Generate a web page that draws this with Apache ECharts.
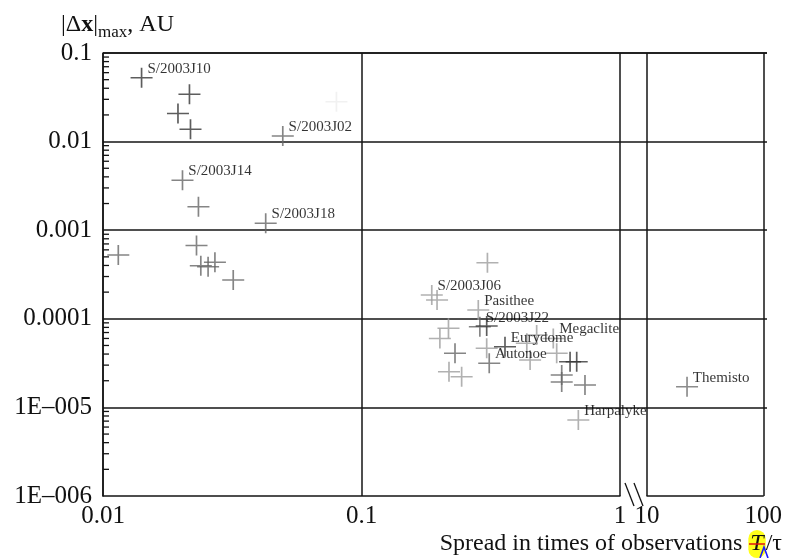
<!DOCTYPE html>
<html>
<head>
<meta charset="utf-8">
<script src="https://cdn.jsdelivr.net/npm/echarts@6/dist/echarts.min.js"></script>
<style>
  html, body { margin: 0; background: #fff; }
  #main { width: 785px; height: 558px; }
</style>
</head>
<body>
<div id="main"></div>
<script>
  // --- data (x: T/tau, y: |dx|max in AU) ---
  // dark crosses
  const darkX = [0.0141, 0.0216, 0.0195, 0.0218, 0.305, 0.359, 0.641, 0.680]
  const darkY = [0.0526, 0.0342, 0.0208, 0.0138, 8.3e-5, 4.84e-5, 3.28e-5, 3.28e-5]
  const darkNames = ['S/2003J10', '', '', '', '', 'Eurydome', '', '']
  // medium crosses
  const midX = [0.0496, 0.0203, 0.0234, 0.0426, 0.01146, 0.0230, 0.0239, 0.0255, 0.0271, 0.0319, 0.287, 0.230, 0.312, 0.595, 0.595, 0.732]
  const midY = [0.01156, 0.00366, 0.00184, 0.0012, 0.000525, 0.00067, 0.000397, 0.000387, 0.000435, 0.000274, 8.15e-5, 4.08e-5, 3.15e-5, 2.32e-5, 1.94e-5, 1.79e-5]
  const midNames = ['S/2003J02', 'S/2003J14', '', 'S/2003J18', '', '', '', '', '', '', 'S/2003J22', '', 'Autonoe', '', '', '']
  // faint crosses
  const faintX = [0.307, 0.187, 0.196, 0.283, 0.217, 0.201, 0.218, 0.244, 0.305, 0.436, 0.476, 0.552, 0.569, 0.449, 0.690]
  const faintY = [4.30e-4, 1.86e-4, 1.63e-4, 1.26e-4, 7.8e-5, 6.0e-5, 2.53e-5, 2.22e-5, 4.65e-5, 5.3e-5, 6.56e-5, 6.0e-5, 4.08e-5, 3.43e-5, 7.2e-6]
  const faintNames = ['', 'S/2003J06', '', 'Pasithee', '', '', '', '', '', '', '', 'Megaclite', '', '', 'Harpalyke']
  // barely visible cross
  const ghostX = [0.080]
  const ghostY = [0.0282]
  // right-hand segment (10..100)
  const farX = [22.1]
  const farY = [1.71e-5]
  const farNames = ['Themisto']

  // tick labels, indexed by decade
  const yTickLabels = ['1E\u2013006', '1E\u2013005', '0.0001', '0.001', '0.01', '0.1'] // 1e-6 .. 1e-1
  const xLeftTickLabels = ['0.01', '0.1', '1'] // 1e-2 .. 1e0
  const xRightTickLabels = ['10', '100'] // 1e1 .. 1e2

  // log minor ticks on the y axis (2..9 of every decade)
  const yMinorTicks = []
  for (let e = -6; e <= -2; e++) {
    for (let m = 2; m <= 9; m++) yMinorTicks.push(m * Math.pow(10, e))
  }

  const serif = "'Liberation Serif', 'DejaVu Serif', serif"
  const ink = '#141414'
  const lineStyle = {color: ink, width: 1.5}
  const dec = v => Math.round(Math.log10(v))
  const crossPath = 'path://M0,10L20,10M10,0L10,20'

  function crossSeries (xs, ys, names, color, axis) {
    return {
      type: 'scatter',
      xAxisIndex: axis,
      yAxisIndex: axis,
      symbol: crossPath,
      symbolSize: [22, 20],
      itemStyle: {color: 'rgba(0,0,0,0)', borderColor: color, borderWidth: 1.6},
      label: {
        show: true,
        position: 'right',
        distance: -6,
        offset: [0, -9],
        formatter: p => p.name,
        fontFamily: serif,
        fontSize: 15,
        color: '#000'
      },
      data: xs.map((x, i) => ({name: names ? names[i] : '', value: [x, ys[i]]})),
      z: 5
    }
  }

  const logX = (gi, min, max, labels, off) => ({
    gridIndex: gi,
    type: 'log',
    min: min,
    max: max,
    axisLine: {show: true, onZero: false, lineStyle: lineStyle},
    axisTick: {show: false},
    splitLine: {show: true, lineStyle: lineStyle},
    axisLabel: {
      formatter: v => labels[dec(v) - off],
      fontFamily: serif,
      fontSize: 25,
      color: '#111',
      margin: 8
    }
  })

  const chart = echarts.init(document.getElementById('main'))
  chart.setOption({
    animation: false,
    backgroundColor: '#fff',
    grid: [
      {left: 103, right: 18, top: 53, bottom: 62},
      {left: 103, width: 517, top: 53, bottom: 62},
      {left: 647, width: 120, top: 53, bottom: 62}
    ],
    xAxis: [
      {gridIndex: 0, type: 'value', show: false},
      logX(1, 0.01, 1, xLeftTickLabels, -2),
      logX(2, 10, 100, xRightTickLabels, 1)
    ],
    yAxis: [
      {
        gridIndex: 0,
        type: 'log',
        min: 1e-6,
        max: 0.1,
        axisLine: {show: true, onZero: false, lineStyle: lineStyle},
        axisTick: {show: false},
        splitLine: {show: true, showMinLine: false, lineStyle: lineStyle},
        axisLabel: {
          formatter: v => yTickLabels[dec(v) + 6],
          fontFamily: serif,
          fontSize: 25,
          color: '#111',
          margin: 11
        }
      },
      {gridIndex: 1, type: 'log', min: 1e-6, max: 0.1, show: false},
      {gridIndex: 2, type: 'log', min: 1e-6, max: 0.1, show: false}
    ],
    series: [
      {
        type: 'custom',
        xAxisIndex: 1,
        yAxisIndex: 1,
        silent: true,
        data: yMinorTicks.map(v => [0.01, v]),
        renderItem: function (params, api) {
          const p = api.coord([api.value(0), api.value(1)])
          return {
            type: 'line',
            shape: {x1: p[0], y1: p[1], x2: p[0] + 6, y2: p[1]},
            style: {stroke: ink, lineWidth: 1.3}
          }
        }
      },
      crossSeries(ghostX, ghostY, null, '#eeeeee', 1),
      crossSeries(faintX, faintY, faintNames, '#9d9d9d', 1),
      crossSeries(midX, midY, midNames, '#676767', 1),
      crossSeries(darkX, darkY, darkNames, '#343434', 1),
      crossSeries(farX, farY, farNames, '#6f6f6f', 2)
    ],
    graphic: [
      {
        type: 'text',
        left: 61,
        top: 8,
        style: {
          text: '{a||\u0394}{b|x}{a||}{s|max}{a|, AU}',
          fill: '#111',
          rich: {
            a: {fontFamily: serif, fontSize: 24, lineHeight: 28},
            b: {fontFamily: serif, fontSize: 24, lineHeight: 28, fontWeight: 'bold'},
            s: {fontFamily: serif, fontSize: 17, lineHeight: 28, padding: [16, 0, 0, 0]}
          }
        }
      },
      {
        type: 'text',
        right: 3,
        top: 530,
        style: {
          text: '{n|Spread in times of observations }{t|T}{n|/\u03c4}',
          fill: '#111',
          rich: {
            n: {fontFamily: serif, fontSize: 24},
            t: {fontFamily: serif, fontSize: 24, fontStyle: 'italic', backgroundColor: '#ffff1a', borderRadius: 9, padding: [2, 2, 2, 2]}
          }
        }
      },
      // red strike and blue caret over the T
      {type: 'line', shape: {x1: 749, y1: 544, x2: 765, y2: 544}, style: {stroke: '#e01010', lineWidth: 1.5}},
      {type: 'polyline', shape: {points: [[760, 558], [764, 547], [768, 558]]}, style: {stroke: '#1a1aff', lineWidth: 1.6, fill: null}},
      // axis break marks
      {type: 'line', shape: {x1: 625, y1: 483, x2: 634, y2: 506}, style: {stroke: ink, lineWidth: 1.3}},
      {type: 'line', shape: {x1: 634, y1: 483, x2: 643, y2: 506}, style: {stroke: ink, lineWidth: 1.3}}
    ]
  })
</script>
</body>
</html>
